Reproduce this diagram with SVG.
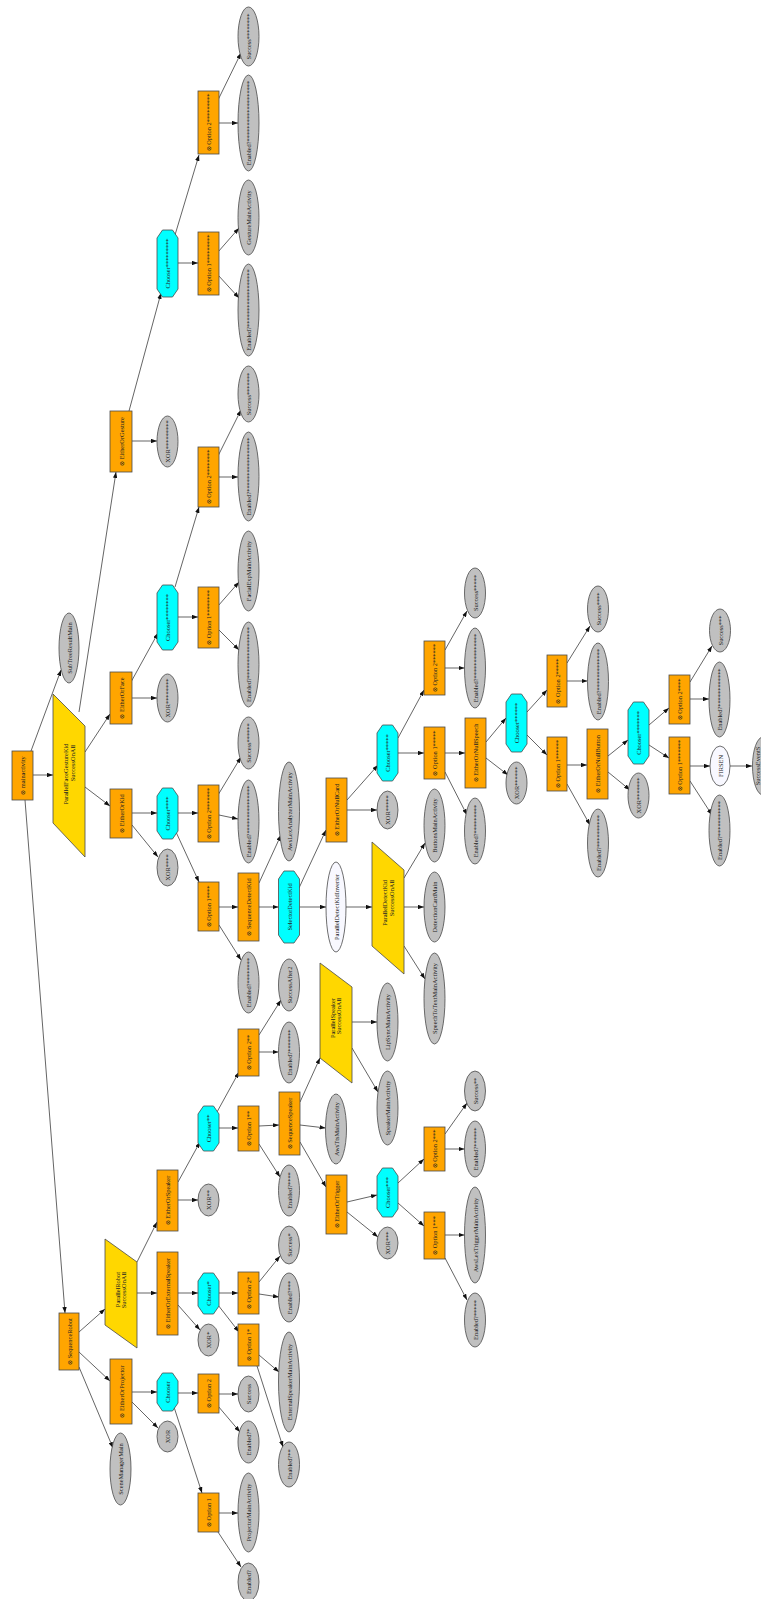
<svg xmlns="http://www.w3.org/2000/svg" width="761" height="1599" viewBox="0 0 761 1599">
<defs>
<style>
.o{fill:#FFA500;stroke:#4a4a4a;stroke-width:0.8}
.c{fill:#00FFFF;stroke:#4a4a4a;stroke-width:0.8}
.g{fill:#C0C0C0;stroke:#4a4a4a;stroke-width:0.8}
.w{fill:#F8F8FF;stroke:#4a4a4a;stroke-width:0.8}
.p{fill:#FFD700;stroke:#4a4a4a;stroke-width:0.8}
text{font-family:"Liberation Serif","Times New Roman",serif;font-size:6.4px;fill:#222;text-anchor:middle;dominant-baseline:central}
text.e{text-anchor:end}
#edges line{stroke:#222;stroke-width:0.7;marker-end:url(#ah)}
</style>
<marker id="ah" markerUnits="userSpaceOnUse" markerWidth="6" markerHeight="4.4" refX="6" refY="2.2" orient="auto"><path d="M0,0 L6,2.2 L0,4.4 z" fill="#111"/></marker>
</defs>
<rect width="761" height="1599" fill="#fff"/>
<g id="edges">
<line x1="31" y1="751" x2="61" y2="670"/>
<line x1="33" y1="775" x2="53" y2="775"/>
<line x1="25" y1="800" x2="65" y2="1313"/>
<line x1="79" y1="712" x2="116" y2="472"/>
<line x1="85" y1="752" x2="110" y2="714"/>
<line x1="85" y1="787" x2="110" y2="806"/>
<line x1="129" y1="411" x2="161" y2="293"/>
<line x1="132" y1="441" x2="157" y2="441"/>
<line x1="175" y1="235" x2="199" y2="155"/>
<line x1="178" y1="263" x2="198" y2="263"/>
<line x1="218" y1="100" x2="241" y2="53"/>
<line x1="219" y1="123" x2="238" y2="123"/>
<line x1="218" y1="252" x2="239" y2="228"/>
<line x1="218" y1="275" x2="239" y2="298"/>
<line x1="131" y1="682" x2="158" y2="633"/>
<line x1="132" y1="698" x2="157" y2="698"/>
<line x1="175" y1="587" x2="199" y2="507"/>
<line x1="178" y1="617" x2="198" y2="617"/>
<line x1="218" y1="456" x2="241" y2="410"/>
<line x1="219" y1="477" x2="238" y2="477"/>
<line x1="218" y1="606" x2="239" y2="582"/>
<line x1="218" y1="629" x2="239" y2="650"/>
<line x1="132" y1="813" x2="157" y2="813"/>
<line x1="132" y1="825" x2="158" y2="857"/>
<line x1="178" y1="813" x2="198" y2="813"/>
<line x1="176" y1="832" x2="199" y2="882"/>
<line x1="218" y1="795" x2="241" y2="757"/>
<line x1="219" y1="815" x2="238" y2="819"/>
<line x1="219" y1="907" x2="238" y2="907"/>
<line x1="219" y1="925" x2="241" y2="960"/>
<line x1="259" y1="883" x2="281" y2="835"/>
<line x1="259" y1="907" x2="278.5" y2="907"/>
<line x1="299" y1="888" x2="326" y2="830"/>
<line x1="299.5" y1="907" x2="326" y2="907"/>
<line x1="346" y1="907" x2="372" y2="907"/>
<line x1="404" y1="878" x2="425" y2="843"/>
<line x1="404" y1="907" x2="424" y2="907"/>
<line x1="404" y1="946" x2="425" y2="979"/>
<line x1="347" y1="800" x2="378" y2="765"/>
<line x1="347" y1="810" x2="377" y2="810"/>
<line x1="398" y1="738" x2="424" y2="690"/>
<line x1="398" y1="753" x2="424" y2="753"/>
<line x1="445" y1="650" x2="467" y2="611"/>
<line x1="445" y1="668" x2="464.5" y2="668"/>
<line x1="445" y1="753" x2="465" y2="753"/>
<line x1="445" y1="772" x2="467" y2="815"/>
<line x1="486" y1="742" x2="506" y2="718"/>
<line x1="486" y1="758" x2="508" y2="775"/>
<line x1="527" y1="712" x2="547" y2="690"/>
<line x1="527" y1="735" x2="547" y2="755"/>
<line x1="567" y1="663" x2="590" y2="626"/>
<line x1="567" y1="681" x2="587.5" y2="681"/>
<line x1="567" y1="765" x2="587" y2="765"/>
<line x1="567" y1="784" x2="590" y2="825"/>
<line x1="608" y1="756" x2="628" y2="740"/>
<line x1="608" y1="772" x2="630" y2="790"/>
<line x1="649" y1="725" x2="669" y2="708"/>
<line x1="649" y1="745" x2="669" y2="758"/>
<line x1="690" y1="682" x2="712" y2="646"/>
<line x1="690" y1="699" x2="709" y2="699"/>
<line x1="690" y1="766" x2="710" y2="766"/>
<line x1="690" y1="781" x2="712" y2="815"/>
<line x1="730" y1="766" x2="752" y2="766"/>
<line x1="79" y1="1332" x2="105" y2="1309"/>
<line x1="79" y1="1352" x2="110" y2="1381"/>
<line x1="79" y1="1367" x2="113" y2="1448"/>
<line x1="137" y1="1262" x2="157" y2="1222"/>
<line x1="137" y1="1293" x2="157" y2="1293"/>
<line x1="178" y1="1293" x2="198" y2="1293"/>
<line x1="178" y1="1305" x2="200" y2="1330"/>
<line x1="219" y1="1293" x2="238" y2="1293"/>
<line x1="218" y1="1305" x2="239" y2="1332"/>
<line x1="259" y1="1282" x2="280" y2="1256"/>
<line x1="259" y1="1294" x2="279" y2="1297"/>
<line x1="259" y1="1355" x2="279" y2="1372"/>
<line x1="257" y1="1366" x2="283" y2="1447"/>
<line x1="132" y1="1392" x2="157" y2="1392"/>
<line x1="132" y1="1402" x2="158" y2="1428"/>
<line x1="178" y1="1393" x2="198" y2="1393"/>
<line x1="174" y1="1407" x2="202" y2="1493"/>
<line x1="219" y1="1394" x2="238" y2="1394"/>
<line x1="218" y1="1406" x2="240" y2="1432"/>
<line x1="219" y1="1513" x2="238" y2="1513"/>
<line x1="218" y1="1532" x2="241" y2="1567"/>
<line x1="178" y1="1182" x2="200" y2="1142"/>
<line x1="178" y1="1200" x2="198" y2="1200"/>
<line x1="219" y1="1128" x2="238" y2="1128"/>
<line x1="217" y1="1112" x2="239" y2="1072"/>
<line x1="259" y1="1035" x2="281" y2="1000"/>
<line x1="259" y1="1052" x2="278.5" y2="1052"/>
<line x1="259" y1="1126" x2="279" y2="1125"/>
<line x1="259" y1="1144" x2="280" y2="1177"/>
<line x1="300" y1="1102" x2="320" y2="1058"/>
<line x1="300" y1="1125" x2="325.5" y2="1128"/>
<line x1="300" y1="1142" x2="326" y2="1187"/>
<line x1="352" y1="1022" x2="377" y2="1022"/>
<line x1="352" y1="1048" x2="378" y2="1092"/>
<line x1="347" y1="1202" x2="377" y2="1195"/>
<line x1="347" y1="1212" x2="378" y2="1237"/>
<line x1="398" y1="1183" x2="424" y2="1159"/>
<line x1="398" y1="1203" x2="424" y2="1226"/>
<line x1="445" y1="1134" x2="467" y2="1103"/>
<line x1="445" y1="1149" x2="464.5" y2="1149"/>
<line x1="445" y1="1235" x2="464.5" y2="1235"/>
<line x1="445" y1="1258" x2="467" y2="1300"/>
</g>

<!-- orange boxes -->
<g id="mainactivity"><rect class="o" x="12" y="751" width="21" height="49"/><text x="22.5" y="775.5" transform="rotate(-90 22.5 775.5)">⊗ mainactivity</text></g>
<g id="EitherOrGesture"><rect class="o" x="110" y="411" width="22" height="61"/><text x="121" y="441.5" transform="rotate(-90 121 441.5)">⊗ EitherOrGesture</text></g>
<g id="EitherOrFace"><rect class="o" x="110" y="672" width="22" height="52"/><text x="121" y="698" transform="rotate(-90 121 698)">⊗ EitherOrFace</text></g>
<g id="EitherOrKid"><rect class="o" x="110" y="789" width="22" height="49"/><text x="121" y="813.5" transform="rotate(-90 121 813.5)">⊗ EitherOrKid</text></g>
<g id="SequenceRobot"><rect class="o" x="59" y="1313" width="20" height="57"/><text x="69" y="1341.5" transform="rotate(-90 69 1341.5)">⊗ SequenceRobot</text></g>
<g id="EitherOrProjector"><rect class="o" x="110" y="1359" width="22" height="65"/><text x="121" y="1391.5" transform="rotate(-90 121 1391.5)">⊗ EitherOrProjector</text></g>
<g id="EitherOrSpeaker"><rect class="o" x="157" y="1170" width="21" height="61"/><text x="167.5" y="1200.5" transform="rotate(-90 167.5 1200.5)">⊗ EitherOrSpeaker</text></g>
<g id="EitherOrExternalSpeaker"><rect class="o" x="157" y="1252" width="21" height="83"/><text x="167.5" y="1293.5" transform="rotate(-90 167.5 1293.5)">⊗ EitherOrExternalSpeaker</text></g>
<g id="opt2g"><rect class="o" x="198" y="91" width="21" height="63"/><text x="208.5" y="122.5" transform="rotate(-90 208.5 122.5)">⊗ Option 2*********</text></g>
<g id="opt1g"><rect class="o" x="198" y="232" width="21" height="63"/><text x="208.5" y="263.5" transform="rotate(-90 208.5 263.5)">⊗ Option 1*********</text></g>
<g id="opt2f"><rect class="o" x="198" y="447" width="21" height="60"/><text x="208.5" y="477" transform="rotate(-90 208.5 477)">⊗ Option 2********</text></g>
<g id="opt1f"><rect class="o" x="198" y="587" width="21" height="61"/><text x="208.5" y="617.5" transform="rotate(-90 208.5 617.5)">⊗ Option 1********</text></g>
<g id="opt2k"><rect class="o" x="198" y="785" width="21" height="57"/><text x="208.5" y="813.5" transform="rotate(-90 208.5 813.5)">⊗ Option 2*******</text></g>
<g id="opt1k"><rect class="o" x="198" y="882" width="21" height="49"/><text x="208.5" y="906.5" transform="rotate(-90 208.5 906.5)">⊗ Option 1****</text></g>
<g id="SequenceDetectKid"><rect class="o" x="238" y="873" width="21" height="68"/><text x="248.5" y="907" transform="rotate(-90 248.5 907)">⊗ SequenceDetectKid</text></g>
<g id="EitherOrNullCard"><rect class="o" x="326" y="778" width="21" height="64"/><text x="336.5" y="810" transform="rotate(-90 336.5 810)">⊗ EitherOrNullCard</text></g>
<g id="opt2nc"><rect class="o" x="424" y="641" width="21" height="54"/><text x="434.5" y="668" transform="rotate(-90 434.5 668)">⊗ Option 2******</text></g>
<g id="opt1nc"><rect class="o" x="424" y="727" width="21" height="52"/><text x="434.5" y="753" transform="rotate(-90 434.5 753)">⊗ Option 1*****</text></g>
<g id="EitherOrNullSpeech"><rect class="o" x="465" y="718" width="21" height="70"/><text x="475.5" y="753" transform="rotate(-90 475.5 753)">⊗ EitherOrNullSpeech</text></g>
<g id="opt2ns"><rect class="o" x="547" y="655" width="20" height="52"/><text x="557" y="681" transform="rotate(-90 557 681)">⊗ Option 2*****</text></g>
<g id="opt1ns"><rect class="o" x="547" y="737" width="20" height="54"/><text x="557" y="764" transform="rotate(-90 557 764)">⊗ Option 1******</text></g>
<g id="EitherOrNullButton"><rect class="o" x="587" y="729" width="21" height="70"/><text x="597.5" y="764" transform="rotate(-90 597.5 764)">⊗ EitherOrNullButton</text></g>
<g id="opt2nb"><rect class="o" x="669" y="675" width="21" height="49"/><text x="679.5" y="699.5" transform="rotate(-90 679.5 699.5)">⊗ Option 2****</text></g>
<g id="opt1nb"><rect class="o" x="669" y="737" width="21" height="57"/><text x="679.5" y="765.5" transform="rotate(-90 679.5 765.5)">⊗ Option 1*******</text></g>
<g id="opt2s"><rect class="o" x="238" y="1029" width="21" height="47"/><text x="248.5" y="1052.5" transform="rotate(-90 248.5 1052.5)">⊗ Option 2**</text></g>
<g id="opt1s"><rect class="o" x="238" y="1106" width="21" height="45"/><text x="248.5" y="1128.5" transform="rotate(-90 248.5 1128.5)">⊗ Option 1**</text></g>
<g id="SequenceSpeaker"><rect class="o" x="279" y="1092" width="21" height="63"/><text x="289.5" y="1123.5" transform="rotate(-90 289.5 1123.5)">⊗ SequenceSpeaker</text></g>
<g id="EitherOrTrigger"><rect class="o" x="326" y="1175" width="21" height="59"/><text x="336.5" y="1204.5" transform="rotate(-90 336.5 1204.5)">⊗ EitherOrTrigger</text></g>
<g id="opt2t"><rect class="o" x="424" y="1127" width="21" height="44"/><text x="434.5" y="1149" transform="rotate(-90 434.5 1149)">⊗ Option 2***</text></g>
<g id="opt1t"><rect class="o" x="424" y="1212" width="21" height="47"/><text x="434.5" y="1235.5" transform="rotate(-90 434.5 1235.5)">⊗ Option 1***</text></g>
<g id="opt2e"><rect class="o" x="238" y="1272" width="21" height="42"/><text x="248.5" y="1293" transform="rotate(-90 248.5 1293)">⊗ Option 2*</text></g>
<g id="opt1e"><rect class="o" x="238" y="1324" width="21" height="42"/><text x="248.5" y="1345" transform="rotate(-90 248.5 1345)">⊗ Option 1*</text></g>
<g id="opt2p"><rect class="o" x="198" y="1374" width="21" height="39"/><text x="208.5" y="1393.5" transform="rotate(-90 208.5 1393.5)">⊗ Option 2</text></g>
<g id="opt1p"><rect class="o" x="198" y="1493" width="21" height="39"/><text x="208.5" y="1512.5" transform="rotate(-90 208.5 1512.5)">⊗ Option 1</text></g>

<!-- cyan octagons -->
<g id="ch9"><polygon class="c" points="162.5,230 172.5,230 178,238 178,289 172.5,297 162.5,297 157,289 157,238"/><text x="167.5" y="263.5" transform="rotate(-90 167.5 263.5)">Chooser*********</text></g>
<g id="ch8"><polygon class="c" points="162.5,585 172.5,585 178,593 178,642 172.5,650 162.5,650 157,642 157,593"/><text x="167.5" y="617.5" transform="rotate(-90 167.5 617.5)">Chooser********</text></g>
<g id="ch4"><polygon class="c" points="162.5,788 172.5,788 178,796 178,831 172.5,839 162.5,839 157,831 157,796"/><text x="167.5" y="813.5" transform="rotate(-90 167.5 813.5)">Chooser****</text></g>
<g id="SelectorDetectKid"><polygon class="c" points="284,871 294,871 299.5,879 299.5,935 294,943 284,943 278.5,935 278.5,879"/><text x="289" y="907" transform="rotate(-90 289 907)">SelectorDetectKid</text></g>
<g id="ch5"><polygon class="c" points="382.5,725 392.5,725 398,733 398,773 392.5,781 382.5,781 377,773 377,733"/><text x="387.5" y="753" transform="rotate(-90 387.5 753)">Chooser*****</text></g>
<g id="ch6"><polygon class="c" points="511.5,694 521.5,694 527,702 527,744 521.5,752 511.5,752 506,744 506,702"/><text x="516.5" y="723" transform="rotate(-90 516.5 723)">Chooser******</text></g>
<g id="ch7"><polygon class="c" points="633.5,702 643.5,702 649,710 649,756 643.5,764 633.5,764 628,756 628,710"/><text x="638.5" y="733" transform="rotate(-90 638.5 733)">Chooser*******</text></g>
<g id="ch2"><polygon class="c" points="203.5,1106 213.5,1106 219,1114 219,1143 213.5,1151 203.5,1151 198,1143 198,1114"/><text x="208.5" y="1128.5" transform="rotate(-90 208.5 1128.5)">Chooser**</text></g>
<g id="ch3"><polygon class="c" points="382.5,1168 392.5,1168 398,1176 398,1209 392.5,1217 382.5,1217 377,1209 377,1176"/><text x="387.5" y="1192.5" transform="rotate(-90 387.5 1192.5)">Chooser***</text></g>
<g id="ch1"><polygon class="c" points="203.5,1273 213.5,1273 219,1281 219,1306 213.5,1314 203.5,1314 198,1306 198,1281"/><text x="208.5" y="1293.5" transform="rotate(-90 208.5 1293.5)">Chooser*</text></g>
<g id="ch0"><polygon class="c" points="162.5,1373 172.5,1373 178,1381 178,1403 172.5,1411 162.5,1411 157,1403 157,1381"/><text x="167.5" y="1392" transform="rotate(-90 167.5 1392)">Chooser</text></g>

<!-- gold parallelograms -->
<g id="ParallelFaceGestureKid"><polygon class="p" points="53,694 85,726 85,857 53,823"/><text x="65" y="774" transform="rotate(-90 65 774)">ParallelFaceGestureKid</text><text class="e" x="72" y="745" transform="rotate(-90 72 745)">SuccessOnAll</text></g>
<g id="ParallelDetectKid"><polygon class="p" points="372,842 404,870 404,974 372,946"/><text class="e" x="384" y="880" transform="rotate(-90 384 880)">ParallelDetectKid</text><text class="e" x="391" y="880" transform="rotate(-90 391 880)">SuccessOnAll</text></g>
<g id="ParallelSpeaker"><polygon class="p" points="320,963 352,987 352,1083 320,1058"/><text class="e" x="332" y="998" transform="rotate(-90 332 998)">ParallelSpeaker</text><text class="e" x="338" y="998" transform="rotate(-90 338 998)">SuccessOnAll</text></g>
<g id="ParallelRobot"><polygon class="p" points="105,1239 137,1262 137,1348 105,1325"/><text class="e" x="117" y="1272" transform="rotate(-90 117 1272)">ParallelRobot</text><text class="e" x="123" y="1272" transform="rotate(-90 123 1272)">SuccessOnAll</text></g>

<!-- white ellipses -->
<g id="ParallelDetectKidInverter"><ellipse class="w" cx="336" cy="907" rx="10" ry="45"/><text x="336" y="907" transform="rotate(-90 336 907)">ParallelDetectKidInverter</text></g>
<g id="FIRSEN"><ellipse class="w" cx="720" cy="766" rx="10" ry="20"/><text x="720" y="766" transform="rotate(-90 720 766)">FIRSEN</text></g>

<!-- gray ellipses -->
<g id="s8"><ellipse class="g" cx="248.5" cy="36.5" rx="10.5" ry="29.5"/><text x="248.5" y="36.5" transform="rotate(-90 248.5 36.5)">Success********</text></g>
<g id="e19"><ellipse class="g" cx="248.5" cy="123" rx="10.5" ry="48"/><text x="248.5" y="123" transform="rotate(-90 248.5 123)">Enabled?*******************</text></g>
<g id="GestureMainActivity"><ellipse class="g" cx="248.5" cy="217.5" rx="10.5" ry="37.5"/><text x="248.5" y="217.5" transform="rotate(-90 248.5 217.5)">GestureMainActivity</text></g>
<g id="e18"><ellipse class="g" cx="248.5" cy="310" rx="10.5" ry="46"/><text x="248.5" y="310" transform="rotate(-90 248.5 310)">Enabled?******************</text></g>
<g id="x9"><ellipse class="g" cx="167.5" cy="441.5" rx="10.5" ry="25.5"/><text x="167.5" y="441.5" transform="rotate(-90 167.5 441.5)">XOR*********</text></g>
<g id="s7"><ellipse class="g" cx="248.5" cy="394" rx="10.5" ry="28"/><text x="248.5" y="394" transform="rotate(-90 248.5 394)">Success*******</text></g>
<g id="e17"><ellipse class="g" cx="248.5" cy="476.5" rx="10.5" ry="44.5"/><text x="248.5" y="476.5" transform="rotate(-90 248.5 476.5)">Enabled?*****************</text></g>
<g id="FacialExpMainActivity"><ellipse class="g" cx="248.5" cy="571" rx="10.5" ry="40"/><text x="248.5" y="571" transform="rotate(-90 248.5 571)">FacialExpMainActivity</text></g>
<g id="e16"><ellipse class="g" cx="248.5" cy="664.5" rx="10.5" ry="42.5"/><text x="248.5" y="664.5" transform="rotate(-90 248.5 664.5)">Enabled?****************</text></g>
<g id="SubTreeResultMain"><ellipse class="g" cx="69" cy="648" rx="10" ry="35"/><text x="69" y="648" transform="rotate(-90 69 648)">SubTreeResultMain</text></g>
<g id="x8"><ellipse class="g" cx="167.5" cy="698" rx="10.5" ry="24"/><text x="167.5" y="698" transform="rotate(-90 167.5 698)">XOR********</text></g>
<g id="s6"><ellipse class="g" cx="248.5" cy="743" rx="10.5" ry="26"/><text x="248.5" y="743" transform="rotate(-90 248.5 743)">Success******</text></g>
<g id="e15"><ellipse class="g" cx="248.5" cy="821.5" rx="10.5" ry="41.5"/><text x="248.5" y="821.5" transform="rotate(-90 248.5 821.5)">Enabled?***************</text></g>
<g id="AwsLexAnalyzerMainActivity"><ellipse class="g" cx="289" cy="811.5" rx="10.5" ry="49.5"/><text x="289" y="811.5" transform="rotate(-90 289 811.5)">AwsLexAnalyzerMainActivity</text></g>
<g id="x4"><ellipse class="g" cx="167.5" cy="867.5" rx="10.5" ry="18.5"/><text x="167.5" y="867.5" transform="rotate(-90 167.5 867.5)">XOR****</text></g>
<g id="e8"><ellipse class="g" cx="248.5" cy="982.5" rx="10.5" ry="30.5"/><text x="248.5" y="982.5" transform="rotate(-90 248.5 982.5)">Enabled?********</text></g>
<g id="s5"><ellipse class="g" cx="475" cy="593" rx="10.5" ry="25"/><text x="475" y="593" transform="rotate(-90 475 593)">Success*****</text></g>
<g id="e14"><ellipse class="g" cx="475" cy="668" rx="10.5" ry="40"/><text x="475" y="668" transform="rotate(-90 475 668)">Enabled?**************</text></g>
<g id="x5"><ellipse class="g" cx="387.5" cy="810" rx="10.5" ry="19"/><text x="387.5" y="810" transform="rotate(-90 387.5 810)">XOR*****</text></g>
<g id="e9"><ellipse class="g" cx="475" cy="831" rx="10.5" ry="33"/><text x="475" y="831" transform="rotate(-90 475 831)">Enabled?*********</text></g>
<g id="ButtonsMainActivity"><ellipse class="g" cx="434.5" cy="825.5" rx="10.5" ry="36.5"/><text x="434.5" y="825.5" transform="rotate(-90 434.5 825.5)">ButtonsMainActivity</text></g>
<g id="DetectionCardMain"><ellipse class="g" cx="434.5" cy="907" rx="10.5" ry="35"/><text x="434.5" y="907" transform="rotate(-90 434.5 907)">DetectionCardMain</text></g>
<g id="SpeechToTextMainActivity"><ellipse class="g" cx="434.5" cy="998.5" rx="10.5" ry="45.5"/><text x="434.5" y="998.5" transform="rotate(-90 434.5 998.5)">SpeechToTextMainActivity</text></g>
<g id="x6"><ellipse class="g" cx="516.5" cy="783" rx="10.5" ry="21"/><text x="516.5" y="783" transform="rotate(-90 516.5 783)">XOR******</text></g>
<g id="s4"><ellipse class="g" cx="598" cy="609" rx="10.5" ry="23"/><text x="598" y="609" transform="rotate(-90 598 609)">Success****</text></g>
<g id="e13"><ellipse class="g" cx="598" cy="681.5" rx="10.5" ry="38.5"/><text x="598" y="681.5" transform="rotate(-90 598 681.5)">Enabled?*************</text></g>
<g id="e10"><ellipse class="g" cx="598" cy="843" rx="10.5" ry="34"/><text x="598" y="843" transform="rotate(-90 598 843)">Enabled?**********</text></g>
<g id="x7"><ellipse class="g" cx="638.5" cy="795.5" rx="10.5" ry="22.5"/><text x="638.5" y="795.5" transform="rotate(-90 638.5 795.5)">XOR*******</text></g>
<g id="s3"><ellipse class="g" cx="720" cy="630.5" rx="10.5" ry="21.5"/><text x="720" y="630.5" transform="rotate(-90 720 630.5)">Success***</text></g>
<g id="e12"><ellipse class="g" cx="719.5" cy="699.5" rx="10.5" ry="37.5"/><text x="719.5" y="699.5" transform="rotate(-90 719.5 699.5)">Enabled?************</text></g>
<g id="e11"><ellipse class="g" cx="719.5" cy="830.5" rx="10.5" ry="35.5"/><text x="719.5" y="830.5" transform="rotate(-90 719.5 830.5)">Enabled?***********</text></g>
<g id="SuccessEventS"><ellipse class="g" cx="763" cy="766" rx="10.5" ry="29"/><text x="757" y="766" transform="rotate(-90 757 766)">SuccessEventS</text></g>
<g id="SuccessAfter2"><ellipse class="g" cx="289" cy="985" rx="10.5" ry="26"/><text x="289" y="985" transform="rotate(-90 289 985)">SuccessAfter2</text></g>
<g id="e7"><ellipse class="g" cx="289" cy="1052.5" rx="10.5" ry="30.5"/><text x="289" y="1052.5" transform="rotate(-90 289 1052.5)">Enabled?*******</text></g>
<g id="AwsTtsMainActivity"><ellipse class="g" cx="336" cy="1129" rx="10.5" ry="35"/><text x="336" y="1129" transform="rotate(-90 336 1129)">AwsTtsMainActivity</text></g>
<g id="e4"><ellipse class="g" cx="289" cy="1190.5" rx="10.5" ry="25.5"/><text x="289" y="1190.5" transform="rotate(-90 289 1190.5)">Enabled?****</text></g>
<g id="x2"><ellipse class="g" cx="208.5" cy="1200" rx="10.5" ry="16"/><text x="208.5" y="1200" transform="rotate(-90 208.5 1200)">XOR**</text></g>
<g id="s1"><ellipse class="g" cx="289" cy="1245" rx="10.5" ry="19"/><text x="289" y="1245" transform="rotate(-90 289 1245)">Success*</text></g>
<g id="LipSyncMainActivity"><ellipse class="g" cx="387.5" cy="1022" rx="10.5" ry="39"/><text x="387.5" y="1022" transform="rotate(-90 387.5 1022)">LipSyncMainActivity</text></g>
<g id="SpeakerMainActivity"><ellipse class="g" cx="387.5" cy="1108" rx="10.5" ry="37"/><text x="387.5" y="1108" transform="rotate(-90 387.5 1108)">SpeakerMainActivity</text></g>
<g id="x3"><ellipse class="g" cx="387.5" cy="1243" rx="10.5" ry="16"/><text x="387.5" y="1243" transform="rotate(-90 387.5 1243)">XOR***</text></g>
<g id="s2"><ellipse class="g" cx="475" cy="1091" rx="10.5" ry="20"/><text x="475" y="1091" transform="rotate(-90 475 1091)">Success**</text></g>
<g id="e6"><ellipse class="g" cx="475" cy="1149" rx="10.5" ry="28"/><text x="475" y="1149" transform="rotate(-90 475 1149)">Enabled?******</text></g>
<g id="AwsLexTriggerMainActivity"><ellipse class="g" cx="475" cy="1235" rx="10.5" ry="48"/><text x="475" y="1235" transform="rotate(-90 475 1235)">AwsLexTriggerMainActivity</text></g>
<g id="e5"><ellipse class="g" cx="475" cy="1320" rx="10.5" ry="27"/><text x="475" y="1320" transform="rotate(-90 475 1320)">Enabled?*****</text></g>
<g id="e3"><ellipse class="g" cx="289" cy="1297.5" rx="10.5" ry="24.5"/><text x="289" y="1297.5" transform="rotate(-90 289 1297.5)">Enabled?***</text></g>
<g id="x1"><ellipse class="g" cx="208.5" cy="1340" rx="10.5" ry="16"/><text x="208.5" y="1340" transform="rotate(-90 208.5 1340)">XOR*</text></g>
<g id="ExternalSpeakerMainActivity"><ellipse class="g" cx="289" cy="1382" rx="10.5" ry="50"/><text x="289" y="1382" transform="rotate(-90 289 1382)">ExternalSpeakerMainActivity</text></g>
<g id="e2"><ellipse class="g" cx="289" cy="1464.5" rx="10.5" ry="22.5"/><text x="289" y="1464.5" transform="rotate(-90 289 1464.5)">Enabled?**</text></g>
<g id="x0"><ellipse class="g" cx="167.5" cy="1436.5" rx="10.5" ry="15.5"/><text x="167.5" y="1436.5" transform="rotate(-90 167.5 1436.5)">XOR</text></g>
<g id="s0"><ellipse class="g" cx="248.5" cy="1394" rx="10.5" ry="18"/><text x="248.5" y="1394" transform="rotate(-90 248.5 1394)">Success</text></g>
<g id="e1"><ellipse class="g" cx="248.5" cy="1442" rx="10.5" ry="21"/><text x="248.5" y="1442" transform="rotate(-90 248.5 1442)">Enabled?*</text></g>
<g id="SceneManagerMain"><ellipse class="g" cx="120.5" cy="1469" rx="10.5" ry="36"/><text x="120.5" y="1469" transform="rotate(-90 120.5 1469)">SceneManagerMain</text></g>
<g id="ProjectorMainActivity"><ellipse class="g" cx="248.5" cy="1512.5" rx="10.5" ry="39.5"/><text x="248.5" y="1512.5" transform="rotate(-90 248.5 1512.5)">ProjectorMainActivity</text></g>
<g id="e0"><ellipse class="g" cx="248.5" cy="1582" rx="10.5" ry="19"/><text x="248.5" y="1582" transform="rotate(-90 248.5 1582)">Enabled?</text></g>
</svg>
